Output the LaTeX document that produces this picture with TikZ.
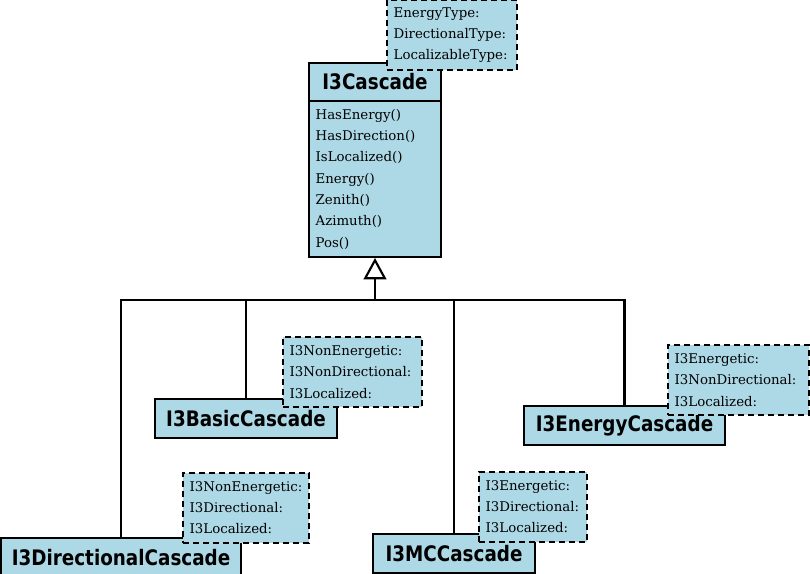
\documentclass[tikz,border=0pt]{standalone}
\usepackage{fontspec}
\setmainfont{DejaVu Serif}
\newfontfamily\classfont[FakeStretch=0.86]{DejaVu Sans}
\usetikzlibrary{positioning,arrows.meta}
\definecolor{lightblue}{RGB}{173,216,230}
\tikzset{
    classbox/.style = {
        draw,
        shape=rectangle,
        fill=lightblue,
        line width=1.5pt,
        inner sep=0pt,
        minimum height=29.25pt,
        font=\classfont\bfseries\fontsize{16}{18}\selectfont
    },
    methodbox/.style = {
        draw,
        shape=rectangle,
        fill=lightblue,
        line width=1.5pt,
        align=left,
        inner xsep=5pt,
        text width=89pt,
        minimum height=117pt,
        font=\fontsize{10}{16}\selectfont
    },
    templatebox/.style = {
        draw,
        shape=rectangle,
        fill=lightblue,
        line width=1.5pt,
        dash pattern=on 4.5pt off 3pt,
        align=left,
        inner xsep=5pt,
        text width=#1,
        minimum height=52.5pt,
        font=\fontsize{10}{16}\selectfont
    },
    link/.style = {
        draw,
        line width=1.6pt
    },
    >={Triangle[open, length=16pt, width=17pt]},
}

\begin{document}
\begin{tikzpicture}[x=0.75pt,y=-0.75pt]
            \useasboundingbox (0,0) rectangle (810,574);

            \node[classbox, minimum width=99pt, minimum height=28.5pt] (cascade) at (375,82) {I3Cascade};
            \node[methodbox] (cascademethods) at (375,179) {HasEnergy()\\HasDirection()\\IsLocalized()\\Energy()\\Zenith()\\Azimuth()\\Pos()};
            \node[templatebox=87.5pt] (cascadetypes) at (452,35) {EnergyType:\\DirectionalType:\\LocalizableType:};

            \node[classbox, minimum width=136.5pt] (basic) at (246,418.5) {I3BasicCascade};
            \node[classbox, minimum width=150.75pt] (energy) at (624.5,425.5) {I3EnergyCascade};
            \node[classbox, minimum width=180pt] (directional) at (121,557.5) {I3DirectionalCascade};
            \node[classbox, minimum width=121.5pt] (mc) at (454,553.5) {I3MCCascade};

            \node[templatebox=94.25pt] (basictypes) at (352.5,372) {I3NonEnergetic:\\I3NonDirectional:\\I3Localized:};
            \node[templatebox=95.75pt] (energytypes) at (738.5,380) {I3Energetic:\\I3NonDirectional:\\I3Localized:};
            \node[templatebox=84.5pt] (directionaltypes) at (246,507.5) {I3NonEnergetic:\\I3Directional:\\I3Localized:};
            \node[templatebox=71pt] (mctypes) at (533,506.5) {I3Energetic:\\I3Directional:\\I3Localized:};

            \coordinate (junction) at (375,300);

            \path[link, ->] (junction) -- (cascademethods.south);
            \path[link] (directional.north) |- (junction) -| (energy.north);
            \path[link] (basic.north) -- (basic.north |- junction);
            \path[link] (mc.north) -- (mc.north |- junction);

        \end{tikzpicture}
\end{document}
